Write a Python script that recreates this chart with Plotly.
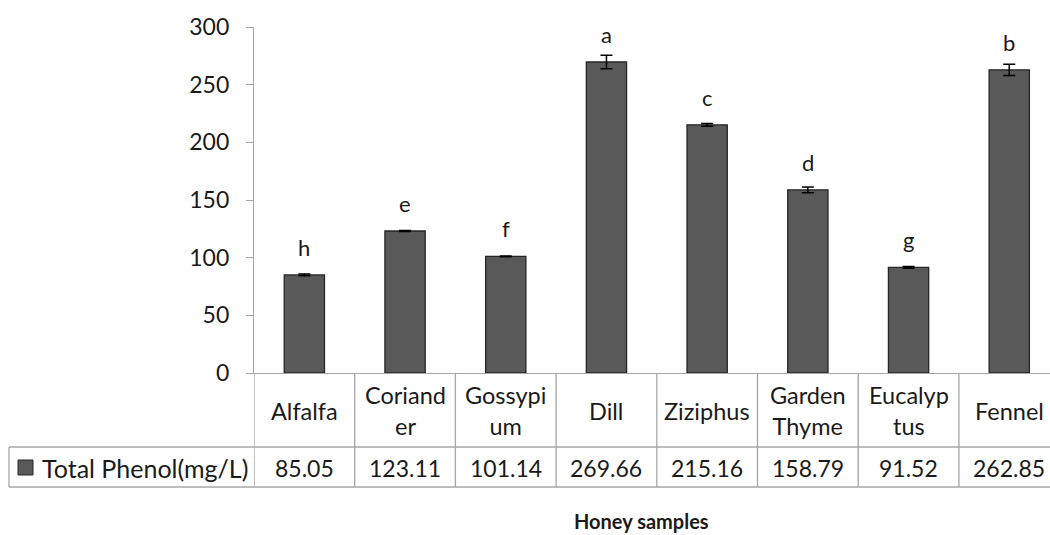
import plotly.graph_objects as go

# data
samples = ["Alfalfa", "Coriand<br>er", "Gossypi<br>um", "Dill", "Ziziphus",
           "Garden<br>Thyme", "Eucalyp<br>tus", "Fennel"]
total_phenol = [85.05, 123.11, 101.14, 269.66, 215.16, 158.79, 91.52, 262.85]
phenol_err = [0.8, 0.4, 0.4, 5.8, 1.2, 2.4, 0.8, 4.9]
letters = ["h", "e", "f", "a", "c", "d", "g", "b"]
series_name = "Total Phenol(mg/L)"
y_ticks = [0, 50, 100, 150, 200, 250, 300]

W, H = 1050, 535
# plot area in pixels
PL, PR, PT, PB = 254, 1050, 27, 373
ROW1_BOT, ROW2_BOT, LEG_LEFT = 447, 487, 9
COL_W = 100.7

FONT = "Lato, 'Open Sans', sans-serif"
TXT = "#1a1a1a"
GRID = "#a6a6a6"


def py(p):
    """pixel row -> paper y"""
    return (PB - p) / (PB - PT)


def px(p):
    """pixel column -> paper x"""
    return (p - PL) / (PR - PL)


x = list(range(len(samples)))

fig = go.Figure()
fig.add_trace(go.Bar(
    x=x, y=total_phenol, width=0.40,
    marker=dict(color="#595959", line=dict(color="#262626", width=1.3)),
    error_y=dict(type="data", array=phenol_err, visible=True,
                 color="#000000", thickness=1.5, width=6),
    showlegend=False,
))

shapes = []
# column borders of the data table
for i in range(len(samples) + 1):
    shapes.append(dict(type="line", xref="x", yref="paper",
                       x0=i - 0.5, x1=i - 0.5, y0=0, y1=py(ROW2_BOT),
                       line=dict(color=GRID, width=1.3)))
# horizontal borders
for yy in (ROW1_BOT, ROW2_BOT):
    shapes.append(dict(type="line", xref="paper", yref="paper",
                       x0=px(LEG_LEFT), x1=1, y0=py(yy), y1=py(yy),
                       line=dict(color=GRID, width=1.3)))
shapes.append(dict(type="line", xref="paper", yref="paper",
                   x0=px(LEG_LEFT), x1=px(LEG_LEFT), y0=py(ROW1_BOT), y1=py(ROW2_BOT),
                   line=dict(color=GRID, width=1.3)))
# legend key
shapes.append(dict(type="rect", xref="paper", yref="paper",
                   x0=px(18), x1=px(33), y0=py(460), y1=py(475),
                   fillcolor="#595959", line=dict(color="#262626", width=1)))

annotations = []
for i, (lab, v, let) in enumerate(zip(samples, total_phenol, letters)):
    annotations.append(dict(x=i, y=py((PB + ROW1_BOT) / 2 + 1), xref="x", yref="paper",
                            text=lab, showarrow=False, yanchor="middle",
                            font=dict(family=FONT, size=23.5, color=TXT)))
    annotations.append(dict(x=i, y=py((ROW1_BOT + ROW2_BOT) / 2 + 1), xref="x", yref="paper",
                            text=f"{v:.2f}", showarrow=False, yanchor="middle",
                            font=dict(family=FONT, size=23, color=TXT)))
    annotations.append(dict(x=i, y=v, xref="x", yref="y", text=let, showarrow=False,
                            yanchor="bottom", yshift=12,
                            font=dict(family=FONT, size=22, color=TXT)))

annotations.append(dict(x=px(40), y=py((ROW1_BOT + ROW2_BOT) / 2 + 1), xref="paper", yref="paper",
                        text=series_name, showarrow=False, xanchor="left", yanchor="middle",
                        font=dict(family=FONT, size=25, color=TXT)))
annotations.append(dict(x=px(641), y=py(521), xref="paper", yref="paper",
                        text="<b>Honey samples</b>", showarrow=False, yanchor="middle",
                        font=dict(family=FONT, size=20, color=TXT)))

fig.update_layout(
    width=W, height=H,
    margin=dict(l=PL, r=W - PR, t=PT, b=H - PB, pad=0),
    plot_bgcolor="white", paper_bgcolor="white",
    xaxis=dict(range=[-0.5, -0.5 + (PR - PL) / COL_W], showticklabels=False,
               ticks="", showgrid=False, zeroline=False,
               showline=True, linecolor=GRID, linewidth=1.3),
    yaxis=dict(range=[0, 300], tickvals=y_ticks, showgrid=False, zeroline=False,
               showline=True, linecolor=GRID, linewidth=1.3,
               ticks="outside", ticklen=7, tickcolor=GRID, tickwidth=1.3,
               ticklabelstandoff=12,
               tickfont=dict(family=FONT, size=23, color=TXT)),
    shapes=shapes, annotations=annotations,
)

fig.write_html("out.html", config={"displayModeBar": False},
               post_script="document.body.style.margin='0';")
